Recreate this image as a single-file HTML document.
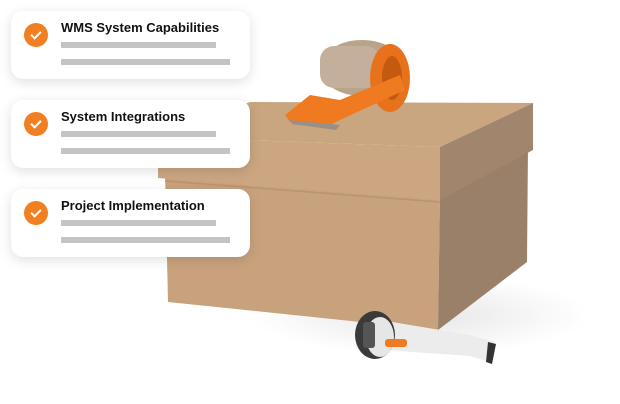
<!DOCTYPE html>
<html><head><style>
body{margin:0;width:620px;height:404px;background:#fff;position:relative;overflow:hidden;font-family:"Liberation Sans",sans-serif}
svg{position:absolute;left:0;top:0}
.card{position:absolute;left:11px;width:239px;height:68px;background:#fff;border-radius:12px;box-shadow:0 3px 12px rgba(0,0,0,0.13)}
.chk{position:absolute;left:13px;top:12px;width:24px;height:24px;border-radius:50%;background:#f27f21}
.chk:after{content:"";position:absolute;left:9px;top:6px;width:4px;height:8px;border:solid #fff;border-width:0 2.5px 2.5px 0;transform:rotate(45deg)}
.t{position:absolute;left:50px;top:9px;font-weight:bold;font-size:13px;color:#111}
.b{position:absolute;left:50px;height:6px;background:#c4c4c4}
</style></head><body>
<svg width="620" height="404">
<defs><radialGradient id="sh"><stop offset="0" stop-color="#000" stop-opacity=".10"/><stop offset="1" stop-color="#000" stop-opacity="0"/></radialGradient></defs>
<ellipse cx="420" cy="315" rx="170" ry="40" fill="url(#sh)"/>
<polygon points="165,172 440,192 438,330 168,302" fill="#c8a27c"/>
<polygon points="440,192 528,145 527,262 438,330" fill="#9b8069"/>
<polygon points="158,137 250,102 533,103 440,147" fill="#c9a67f"/>
<polygon points="158,137 440,147 440,200 158,178" fill="#cba680"/>
<polygon points="440,147 533,103 533,150 440,200" fill="#a1856c"/>
<line x1="165" y1="181" x2="440" y2="202" stroke="#b8946f" stroke-width="1.5"/>
<!-- tape -->
<ellipse cx="362" cy="68" rx="42" ry="28" fill="#b9a48a"/>
<rect x="320" y="46" width="60" height="42" rx="14" fill="#c4b09a"/>
<ellipse cx="390" cy="78" rx="20" ry="34" fill="#e8721c"/>
<ellipse cx="392" cy="78" rx="10" ry="22" fill="#c45a10"/>
<polygon points="285,115 310,95 340,100 400,75 405,90 340,120 330,125 290,122" fill="#f07a20"/>
<polygon points="290,120 340,125 336,130 292,124" fill="#9a8f86"/>
<!-- scanner -->
<polygon points="380,320 470,335 495,342 490,362 470,356 385,350" fill="#ececec"/>
<ellipse cx="375" cy="335" rx="20" ry="24" fill="#3a3a3a"/>
<ellipse cx="380" cy="337" rx="14" ry="20" fill="#e6e6e6"/>
<rect x="363" y="322" width="12" height="26" rx="3" fill="#555"/>
<rect x="385" y="339" width="22" height="8" rx="3" fill="#f07a20"/>
<polygon points="488,342 496,344 492,364 486,362" fill="#333"/>
</svg>
<div class="card" style="top:11px"><div class="chk"></div><div class="t">WMS System Capabilities</div><div class="b" style="top:31px;width:155px"></div><div class="b" style="top:48px;width:169px"></div></div>
<div class="card" style="top:100px"><div class="chk"></div><div class="t">System Integrations</div><div class="b" style="top:31px;width:155px"></div><div class="b" style="top:48px;width:169px"></div></div>
<div class="card" style="top:189px"><div class="chk"></div><div class="t">Project Implementation</div><div class="b" style="top:31px;width:155px"></div><div class="b" style="top:48px;width:169px"></div></div>
</body></html>
